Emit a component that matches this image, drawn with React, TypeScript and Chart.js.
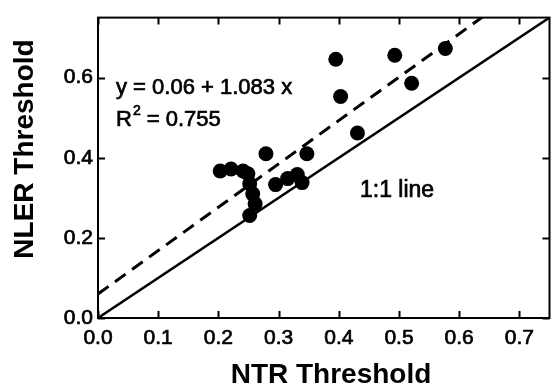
import { useEffect, useRef } from "react";
import { Chart, registerables } from "chart.js";

Chart.register(...registerables);

const FONT = '"Liberation Sans", Arial, Helvetica, sans-serif';

// Scatter data (NTR threshold, NLER threshold)
const ntrValues = [
  0.203, 0.221, 0.241, 0.249, 0.252, 0.257, 0.261, 0.252, 0.279, 0.295,
  0.315, 0.331, 0.339, 0.347, 0.395, 0.403, 0.431, 0.493, 0.521, 0.577,
];
const nlerValues = [
  0.367, 0.372, 0.367, 0.36, 0.335, 0.31, 0.285, 0.256, 0.41, 0.333,
  0.348, 0.358, 0.338, 0.41, 0.646, 0.553, 0.462, 0.656, 0.586, 0.673,
];

// Regression line y = 0.06 + 1.083 x, endpoints
const fitX = [0, 0.75];
const fitY = [0.06, 0.872];

// 1:1 line endpoints
const identityX = [0, 0.75];
const identityY = [0, 0.75];

const xTicks = [0, 0.1, 0.2, 0.3, 0.4, 0.5, 0.6, 0.7];
const yTicks = [0, 0.2, 0.4, 0.6];

const eqText = "y = 0.06 + 1.083 x";
const r2Value = "0.755";
const identityLabel = "1:1 line";
const xTitle = "NTR Threshold";
const yTitle = "NLER Threshold";

const TEXT_STROKE = 0.7;

function heavyText(ctx: any, s: string, x: number, y: number) {
  ctx.fillText(s, x, y);
  ctx.lineWidth = TEXT_STROKE;
  ctx.strokeText(s, x, y);
}

const decorPlugin = {
  id: "decor",
  afterDraw(chart: any) {
    const { ctx, chartArea, scales } = chart;
    const { left, right, top, bottom } = chartArea;
    const xs = scales.x;
    const ys = scales.y;
    ctx.save();
    ctx.strokeStyle = "#000";
    ctx.lineWidth = 2;
    ctx.strokeRect(left, top, right - left, bottom - top);
    // inward tick marks
    const tl = 7;
    ctx.beginPath();
    xTicks.forEach((v) => {
      const px = Math.round(xs.getPixelForValue(v)) + 0.5;
      ctx.moveTo(px, bottom);
      ctx.lineTo(px, bottom - tl);
      ctx.moveTo(px, top);
      ctx.lineTo(px, top + tl);
    });
    yTicks.forEach((v) => {
      const py = Math.round(ys.getPixelForValue(v)) + 0.5;
      ctx.moveTo(left, py);
      ctx.lineTo(left + tl, py);
      ctx.moveTo(right, py);
      ctx.lineTo(right - tl, py);
    });
    ctx.stroke();

    ctx.fillStyle = "#000";
    // annotations
    ctx.font = `22px ${FONT}`;
    ctx.textAlign = "left";
    ctx.textBaseline = "alphabetic";
    heavyText(ctx, eqText, 116, 94);
    let x = 116;
    heavyText(ctx, "R", x, 126);
    x += ctx.measureText("R").width;
    ctx.font = `14px ${FONT}`;
    heavyText(ctx, "2", x + 1, 115);
    x += ctx.measureText("2").width + 1;
    ctx.font = `22px ${FONT}`;
    heavyText(ctx, " = " + r2Value, x, 126);
    ctx.font = `23px ${FONT}`;
    heavyText(ctx, identityLabel, 360, 197);

    // axis titles
    ctx.font = `bold 28px ${FONT}`;
    ctx.textAlign = "center";
    ctx.fillText(xTitle, 331, 383);
    ctx.translate(33, 149);
    ctx.rotate(-Math.PI / 2);
    ctx.fillText(yTitle, 0, 0);
    ctx.restore();
  },
};

export default function App() {
  const ref = useRef<HTMLCanvasElement | null>(null);
  useEffect(() => {
    if (!ref.current) return;
    const chart = new Chart(ref.current, {
      type: "scatter",
      data: {
        datasets: [
          {
            type: "line",
            data: identityX.map((v, i) => ({ x: v, y: identityY[i] })),
            borderColor: "#000",
            borderWidth: 2.5,
            pointRadius: 0,
            fill: false,
          },
          {
            type: "line",
            data: fitX.map((v, i) => ({ x: v, y: fitY[i] })),
            borderColor: "#000",
            borderWidth: 3,
            borderDash: [13, 8],
            pointRadius: 0,
            fill: false,
          },
          {
            data: ntrValues.map((v, i) => ({ x: v, y: nlerValues[i] })),
            backgroundColor: "#000",
            borderColor: "#000",
            pointRadius: 7.5,
            pointBorderWidth: 0,
          },
        ],
      } as any,
      options: {
        animation: false,
        responsive: false,
        maintainAspectRatio: false,
        layout: { padding: { top: 16, right: 2, left: 0, bottom: 0 } },
        plugins: { legend: { display: false }, tooltip: { enabled: false } },
        scales: {
          x: {
            type: "linear",
            min: 0,
            max: 0.75,
            afterBuildTicks: (s: any) => {
              s.ticks = xTicks.map((v) => ({ value: v }));
            },
            afterFit: (s: any) => {
              s.height = 74;
            },
            ticks: {
              autoSkip: false,
              maxRotation: 0,
              padding: 8,
              color: "#000",
              textStrokeColor: "#000",
              textStrokeWidth: TEXT_STROKE,
              font: { family: FONT, size: 21 },
              callback: (v: any) => Number(v).toFixed(1),
            },
            grid: { display: false, drawTicks: false },
            border: { display: false },
          },
          y: {
            type: "linear",
            min: 0,
            max: 0.75,
            afterBuildTicks: (s: any) => {
              s.ticks = yTicks.map((v) => ({ value: v }));
            },
            afterFit: (s: any) => {
              s.width = 98;
            },
            ticks: {
              autoSkip: false,
              padding: 5,
              color: "#000",
              textStrokeColor: "#000",
              textStrokeWidth: TEXT_STROKE,
              font: { family: FONT, size: 21 },
              callback: (v: any) => Number(v).toFixed(1),
            },
            grid: { display: false, drawTicks: false },
            border: { display: false },
          },
        },
      },
      plugins: [decorPlugin],
    });
    return () => chart.destroy();
  }, []);
  return (
    <div style={{ position: "fixed", left: 0, top: 0, width: 557, height: 392, background: "#fff" }}>
      <canvas ref={ref} width={557} height={392} style={{ width: 557, height: 392 }} />
    </div>
  );
}
